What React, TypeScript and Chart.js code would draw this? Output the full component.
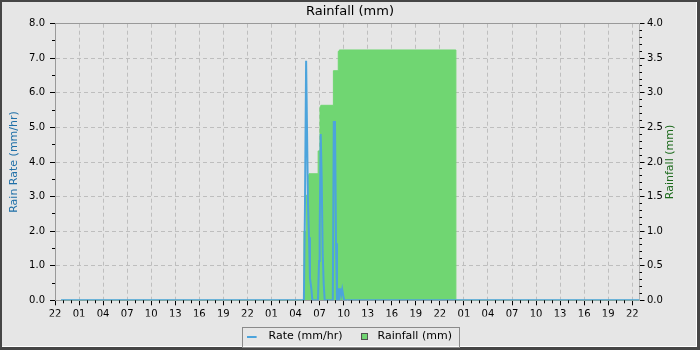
import React, { useEffect, useRef } from 'react';
import { Chart, registerables } from 'chart.js';

Chart.register(...registerables);

const FONT = 'DejaVu Sans';

const CHART_TITLE = 'Rainfall (mm)';
const LEFT_TITLE = 'Rain Rate (mm/hr)';
const RIGHT_TITLE = 'Rainfall (mm)';
const RATE_LABEL = 'Rate (mm/hr)';
const RAIN_LABEL = 'Rainfall (mm)';

const RATE_COLOR = '#4ca4dc';
const RAIN_COLOR = '#70d672';
const LEFT_TITLE_COLOR = '#2070a8';
const RIGHT_TITLE_COLOR = '#1c6a1c';
const GRID_COLOR = '#bebebe';
const FRAME_COLOR = '#999999';

// x values are hours after 22:00 of the first day
const START_HOUR = 22;
const X_MIN = 0;
const X_MAX = 72.9;
const X_MAJOR_TICKS = [0, 3, 6, 9, 12, 15, 18, 21, 24, 27, 30, 33, 36, 39, 42, 45, 48, 51, 54, 57, 60, 63, 66, 69, 72];
const LEFT_TICKS = [0, 1, 2, 3, 4, 5, 6, 7, 8];
const RIGHT_TICKS = [0, 0.5, 1, 1.5, 2, 2.5, 3, 3.5, 4];

// Rain rate (mm/hr), left axis
const rateHours = [0.75, 31.04, 31.17, 31.32, 31.4, 31.55, 31.68, 31.8, 31.98, 32.1, 32.8, 32.93, 33.01, 33.14, 33.26, 33.39, 33.51, 33.64, 34.65, 34.77, 34.92, 35.05, 35.17, 35.3, 35.42, 35.58, 35.69, 35.82, 35.94, 36.07, 72.9];
const rateValues = [0, 0, 2.56, 6.93, 6.93, 2.83, 1.82, 0.64, 0.32, 0, 0, 1.14, 2.0, 4.81, 3.57, 1.34, 0.49, 0, 0, 5.16, 5.16, 1.65, 0, 0, 0.32, 0.32, 0.15, 0.32, 0.15, 0, 0];

// Cumulative daily rainfall (mm), right axis
const rainHours = [0.75, 31.05, 31.35, 31.55, 31.68, 32.82, 33.05, 33.15, 34.72, 35.33, 35.46, 50.0, 72.9];
const rainValues = [0, 1.0, 1.52, 1.81, 1.83, 2.16, 2.8, 2.82, 3.32, 3.6, 3.62, 0, 0];

const fmtHour = (v: number) => String((START_HOUR + Math.round(v)) % 24).padStart(2, '0');

const alignPx = (p: number) => Math.round(p - 0.5) + 0.5;

const framePlugin = {
  id: 'frame',
  beforeDraw(chart: any) {
    const { ctx, width, height } = chart;
    ctx.save();
    ctx.fillStyle = '#464646';
    ctx.fillRect(0, 0, width, height);
    ctx.fillStyle = '#ffffff';
    ctx.fillRect(2, 2, width - 5, height - 5);
    ctx.fillStyle = '#e6e6e6';
    ctx.fillRect(2, 2, width - 6, height - 6);
    ctx.restore();
  },
};

const minorTicksPlugin = {
  id: 'minorTicks',
  afterDraw(chart: any) {
    const { ctx } = chart;
    const sx = chart.scales.x;
    const sy = chart.scales.y;
    const sy1 = chart.scales.y1;
    ctx.save();
    ctx.strokeStyle = '#000';
    ctx.lineWidth = 1;
    ctx.beginPath();
    for (let h = 1; h < X_MAX; h++) {
      if (h % 3 === 0) continue;
      const px = alignPx(sx.getPixelForValue(h));
      ctx.moveTo(px, sx.top);
      ctx.lineTo(px, sx.top + 3);
    }
    for (let k = 0; k < 8; k++) {
      const py = alignPx(sy.getPixelForValue(k + 0.5));
      ctx.moveTo(sy.right - 3, py);
      ctx.lineTo(sy.right, py);
    }
    for (let k = 1; k < 40; k++) {
      if (k % 5 === 0) continue;
      const py = alignPx(sy1.getPixelForValue(k / 10));
      ctx.moveTo(sy1.left, py);
      ctx.lineTo(sy1.left + 2.5, py);
    }
    ctx.stroke();
    ctx.restore();
  },
};

const rightTitlePlugin = {
  id: 'rightTitle',
  afterDraw(chart: any) {
    const { ctx, chartArea } = chart;
    ctx.save();
    ctx.translate(chartArea.right + 31, (chartArea.top + chartArea.bottom) / 2);
    ctx.rotate(-Math.PI / 2);
    ctx.font = `11px "${FONT}"`;
    ctx.fillStyle = RIGHT_TITLE_COLOR;
    ctx.textAlign = 'center';
    ctx.textBaseline = 'middle';
    ctx.fillText(RIGHT_TITLE, 0, 0);
    ctx.restore();
  },
};

const legendBoxPlugin = {
  id: 'legendBox',
  afterDraw(chart: any) {
    const lg = chart.legend;
    if (!lg || !lg.legendHitBoxes || lg.legendHitBoxes.length === 0) return;
    const hb = lg.legendHitBoxes;
    const first = hb[0];
    const last = hb[hb.length - 1];
    const left = Math.round(first.left - 6.5) + 0.5;
    const right = Math.round(last.left + last.width + 7.5) + 0.5;
    const top = Math.round(first.top - 4.5) + 0.5;
    const bottom = top + 20;
    const { ctx } = chart;
    ctx.save();
    ctx.strokeStyle = '#8a8a8a';
    ctx.lineWidth = 1;
    ctx.strokeRect(left, top, right - left, bottom - top);
    ctx.restore();
  },
};

export default function App() {
  const canvasRef = useRef<HTMLCanvasElement | null>(null);

  useEffect(() => {
    const canvas = canvasRef.current;
    if (!canvas) return;

    const lineMarker = document.createElement('canvas');
    lineMarker.width = 18;
    lineMarker.height = 2;
    const lctx = lineMarker.getContext('2d')!;
    lctx.fillStyle = RATE_COLOR;
    lctx.fillRect(0, 0, 10, 2);

    const boxMarker = document.createElement('canvas');
    boxMarker.width = 7;
    boxMarker.height = 7;
    const bctx = boxMarker.getContext('2d')!;
    bctx.fillStyle = '#505050';
    bctx.fillRect(0, 0, 7, 7);
    bctx.fillStyle = RAIN_COLOR;
    bctx.fillRect(1, 1, 5, 5);

    const tickFont = { family: FONT, size: 10 };

    const chart = new Chart(canvas, {
      type: 'line',
      data: {
        datasets: [
          {
            label: RATE_LABEL,
            data: rateHours.map((h, i) => ({ x: h, y: rateValues[i] })),
            yAxisID: 'y',
            borderColor: RATE_COLOR,
            backgroundColor: RATE_COLOR,
            borderWidth: 2,
            pointRadius: 0,
            tension: 0,
            fill: false,
            order: 0,
          },
          {
            label: RAIN_LABEL,
            data: rainHours.map((h, i) => ({ x: h, y: rainValues[i] })),
            yAxisID: 'y1',
            stepped: true,
            borderColor: RAIN_COLOR,
            backgroundColor: RAIN_COLOR,
            borderWidth: 1,
            pointRadius: 0,
            fill: 'origin',
            order: 1,
          },
        ],
      },
      options: {
        animation: false,
        responsive: false,
        devicePixelRatio: 1,
        layout: { padding: 0 },
        plugins: {
          title: {
            display: true,
            text: CHART_TITLE,
            color: '#000',
            font: { family: FONT, size: 13, weight: 'normal' },
            padding: { top: 4, bottom: 4.1 },
          },
          legend: {
            display: true,
            position: 'bottom',
            maxHeight: 33.5,
            labels: {
              usePointStyle: true,
              pointStyleWidth: 15,
              padding: 14.5,
              color: '#000',
              font: { family: FONT, size: 11 },
              generateLabels: () => [
                {
                  text: RATE_LABEL,
                  fillStyle: RATE_COLOR,
                  strokeStyle: RATE_COLOR,
                  lineWidth: 0,
                  hidden: false,
                  datasetIndex: 0,
                  pointStyle: lineMarker,
                  fontColor: '#000',
                },
                {
                  text: RAIN_LABEL,
                  fillStyle: RAIN_COLOR,
                  strokeStyle: '#505050',
                  lineWidth: 0,
                  hidden: false,
                  datasetIndex: 1,
                  pointStyle: boxMarker,
                  fontColor: '#000',
                },
              ],
            },
          },
          tooltip: { enabled: false },
        },
        scales: {
          x: {
            type: 'linear',
            min: X_MIN,
            max: X_MAX,
            afterBuildTicks: (s: any) => {
              s.ticks = X_MAJOR_TICKS.map((v) => ({ value: v }));
            },
            afterFit: (s: any) => {
              s.height = 16.2;
            },
            ticks: {
              autoSkip: false,
              maxRotation: 0,
              minRotation: 0,
              padding: 3,
              color: '#000',
              font: tickFont,
              callback: (v: any) => fmtHour(Number(v)),
            },
            grid: {
              color: (c: any) => (c.tick && c.tick.value === 0 ? 'rgba(0,0,0,0)' : GRID_COLOR),
              lineWidth: 1,
              tickLength: 5,
              tickColor: '#000',
              tickWidth: 1,
            },
            border: { display: true, color: FRAME_COLOR, width: 1, dash: [4, 3] },
          },
          y: {
            type: 'linear',
            position: 'left',
            min: 0,
            max: 8,
            afterBuildTicks: (s: any) => {
              s.ticks = LEFT_TICKS.map((v) => ({ value: v }));
            },
            afterFit: (s: any) => {
              s.width = 55;
            },
            ticks: {
              padding: 5,
              color: '#000',
              font: tickFont,
              callback: (v: any) => Number(v).toFixed(1),
            },
            title: {
              display: true,
              text: LEFT_TITLE,
              color: LEFT_TITLE_COLOR,
              font: { family: FONT, size: 11 },
              padding: { top: 7.4, bottom: 0 },
            },
            grid: {
              color: (c: any) => (c.tick && c.tick.value === 8 ? FRAME_COLOR : GRID_COLOR),
              lineWidth: 1,
              tickLength: 5,
              tickColor: '#000',
              tickWidth: 1,
            },
            border: {
              display: true,
              color: FRAME_COLOR,
              width: 1,
              dash: (c: any) => (c.tick && c.tick.value === 8 ? [] : [4, 3]),
            },
          },
          y1: {
            type: 'linear',
            position: 'right',
            min: 0,
            max: 4,
            afterBuildTicks: (s: any) => {
              s.ticks = RIGHT_TICKS.map((v) => ({ value: v }));
            },
            afterFit: (s: any) => {
              s.width = 60.5;
            },
            ticks: {
              padding: 2.5,
              color: '#000',
              font: tickFont,
              callback: (v: any) => Number(v).toFixed(1),
            },
            grid: {
              drawOnChartArea: false,
              tickLength: 5,
              tickColor: '#000',
              tickWidth: 1,
            },
            border: { display: true, color: '#b0b0b0', width: 1 },
          },
        },
      } as any,
      plugins: [framePlugin, minorTicksPlugin, rightTitlePlugin, legendBoxPlugin],
    });

    return () => {
      chart.destroy();
    };
  }, []);

  return (
    <div style={{ position: 'fixed', left: 0, top: 0, width: 700, height: 350 }}>
      <canvas ref={canvasRef} width={700} height={350} style={{ display: 'block', width: 700, height: 350 }} />
    </div>
  );
}
